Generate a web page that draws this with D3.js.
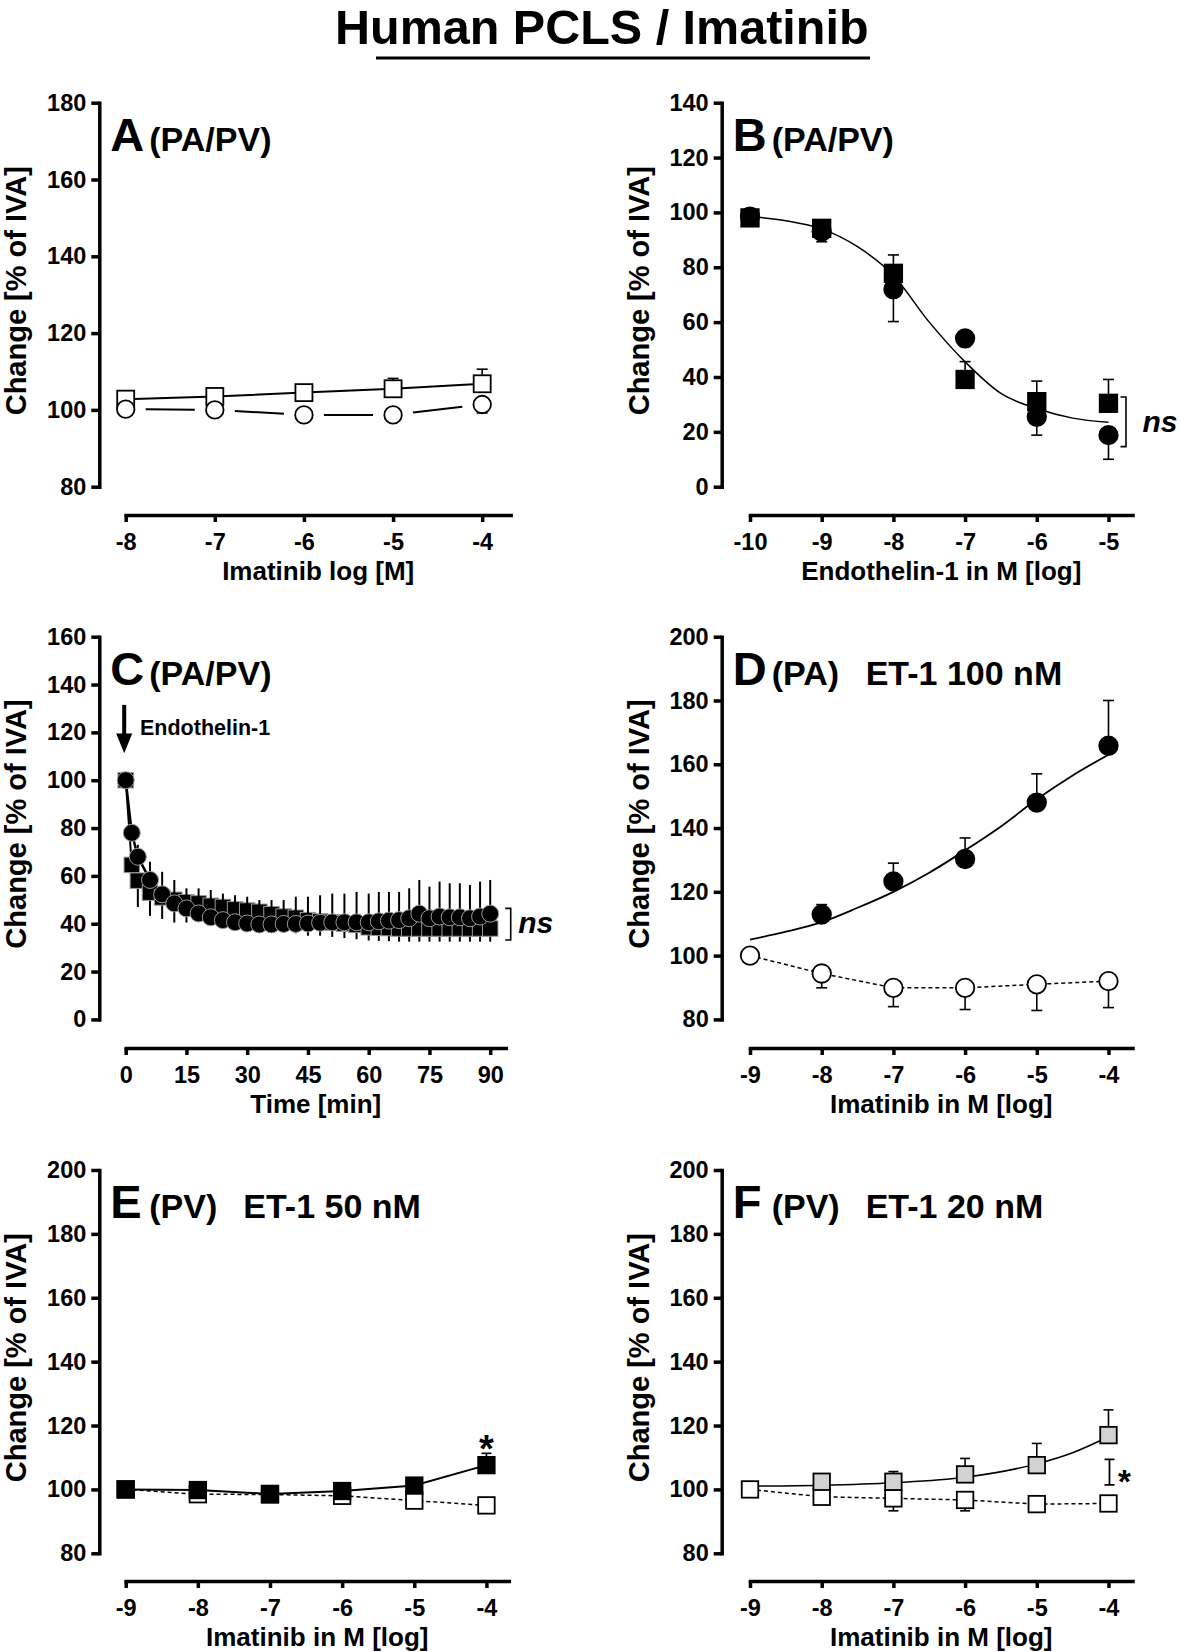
<!DOCTYPE html>
<html>
<head>
<meta charset="utf-8">
<script src="https://cdn.jsdelivr.net/npm/d3@7"></script>
<style>
  body { margin: 0; background: #fff; }
  svg { display: block; font-family: "Liberation Sans", Arial, Helvetica, sans-serif; font-weight: bold; }
</style>
</head>
<body>
<svg id="fig" width="1181" height="1652"></svg>
<script>
// ---- data ----

// A: imatinib alone
const aDose = [-8, -7, -6, -5, -4];
const aSquare = [102.8, 103.5, 104.5, 105.5, 106.8];
const aSquareErr = [0.8, 0.8, 1.0, 2.7, 3.8];
const aCircle = [100.2, 100.0, 98.7, 98.7, 101.4];
const aCircleErr = [0, 0, 0, 0, 2.2];
const aXTicks = [-8, -7, -6, -5, -4];
const aYTicks = [80, 100, 120, 140, 160, 180];

// B: endothelin-1 concentration response
const bDose = [-10, -9, -8, -7, -6, -5];
const bSquare = [98, 94.2, 77.8, 39.1, 31, 30.4];
const bSquareErr = [1, 1.5, 6.7, 6.5, 7.5, 8.7];
const bCircle = [98.5, 93, 72, 54.1, 25.5, 18.8];
const bCircleErr = [1, 3.7, 11.8, 3, 6.7, 8.8];
const bFitX = [-10, -9.5, -9, -8.5, -8, -7.5, -7, -6.5, -6, -5.5, -5];
const bFitY = [98.5, 97, 94, 87.5, 77, 60, 45.5, 34, 28.5, 25, 23.5];
const bXTicks = [-10, -9, -8, -7, -6, -5];
const bYTicks = [0, 20, 40, 60, 80, 100, 120, 140];

// C: time course after endothelin-1
const cTime = [0, 1.5, 3, 6, 9, 12, 15, 18, 21, 24, 27, 30, 33, 36, 39, 42, 45, 48, 51, 54, 57,
  60, 62.5, 65, 67.5, 70, 72.5, 75, 77.5, 80, 82.5, 85, 87.5, 90];
const cCircle = [100, 78, 68, 58.3, 52.3, 48.5, 46.4, 44.3, 42.7, 41.5, 40.6, 40.1, 39.7, 39.7, 39.9,
  39.9, 40.1, 40.4, 40.6, 40.6, 40.6, 40.6, 41, 41.3, 41.5, 42.3, 44.2, 42.3, 43, 42.7, 42.7, 42.3, 43, 44.2];
const cCircleErr = [0, 3.3, 5, 7.6, 9.4, 9.8, 8.4, 10.5, 11.4, 11.1, 11.3, 11.2, 10.2, 10.2, 10, 11.4,
  11.2, 11.5, 12, 12, 12.7, 12, 12.3, 12, 11.8, 12.5, 14.1, 13.2, 14.6, 14.2, 14.2, 13.9, 14.6, 14.1];
const cSquare = [100, 64.6, 58, 53, 51, 50, 49, 48.5, 47.5, 47, 46, 45.5, 45, 44, 43, 42.5, 41.5, 41,
  40.5, 40, 39.5, 38.5, 38.3, 38.2, 38, 38, 38, 38, 38, 38, 38, 38, 38, 38];
const cSquareErr = [0, 8, 11, 9.7, 9, 9.5, 8.5, 6.5, 7, 7, 7, 7, 7, 6.5, 6.5, 6.5, 6.5, 6, 6, 6, 6,
  5.5, 5.5, 5.5, 5.5, 5.5, 5.5, 5.5, 5.5, 5.5, 5.5, 5.5, 5.5, 5.5];
const cXTicks = [0, 15, 30, 45, 60, 75, 90];
const cYTicks = [0, 20, 40, 60, 80, 100, 120, 140, 160];

// D: PA, ET-1 100 nM
const dFilledDose = [-8, -7, -6, -5, -4];
const dFilled = [112.9, 123.3, 130.3, 148, 165.8];
const dFilledErr = [3.1, 5.7, 6.6, 9, 14.2];
const dOpenDose = [-9, -8, -7, -6, -5, -4];
const dOpen = [100, 94.4, 89.9, 89.9, 91, 92];
const dOpenErr = [0, 4.5, 5.9, 6.8, 8.2, 8.3];
const dFitX = [-9, -8.5, -8, -7.5, -7, -6.5, -6, -5.5, -5, -4.5, -4];
const dFitY = [105, 107.5, 110.5, 115, 120, 126, 133, 140.5, 149, 156.5, 163];

// E: PV, ET-1 50 nM
const eDose = [-9, -8, -7, -6, -5, -4];
const eFilled = [100, 99.8, 98.6, 99.5, 101.2, 107.6];
const eFilledErr = [0, 0, 0, 0, 0.5, 3.7];
const eOpen = [100, 98.5, 98.4, 98, 96.5, 95];
const eOpenErr = [0, 0, 0, 0, 0, 2];

// F: PV, ET-1 20 nM
const fGrayDose = [-8, -7, -6, -5, -4];
const fGray = [102.4, 102.4, 104.7, 107.6, 117];
const fGrayErr = [0, 3.2, 5, 6.8, 7.9];
const fOpenDose = [-9, -8, -7, -6, -5, -4];
const fOpen = [100, 97.7, 97.2, 96.7, 95.4, 95.6];
const fOpenErr = [0, 0, 3.9, 3.4, 0, 0];
const fFitX = [-9, -8, -7, -6, -5, -4.5, -4];
const fFitY = [101, 101.3, 102.1, 103.8, 108, 111.5, 116.5];

const imaXTicks = [-9, -8, -7, -6, -5, -4];
const imaYTicks = [80, 100, 120, 140, 160, 180, 200];

// ---- drawing ----
const svg = d3.select('#fig');

svg.append('text')
  .attr('x', 335).attr('y', 44)
  .attr('font-size', 48.5)
  .text('Human PCLS / Imatinib');
svg.append('line')
  .attr('x1', 376).attr('x2', 870)
  .attr('y1', 58).attr('y2', 58)
  .attr('stroke', '#000').attr('stroke-width', 3);

const LEFT = 99.3, RIGHT = 721.7;
const rows = [
  {top: 102.7, bottom: 486.7, axisY: 515},
  {top: 636.7, bottom: 1019.4, axisY: 1048},
  {top: 1170, bottom: 1553.3, axisY: 1581}
];

function drawLine(g, x, y, l) {
  const pts = l.xs.map((d, i) => [x(d), y(l.ys[i])]);
  if (l.gap) {
    // broken segments that stop short of each marker
    for (let i = 1; i < pts.length; i++) {
      const [x0, y0] = pts[i - 1], [x1, y1] = pts[i];
      const len = Math.hypot(x1 - x0, y1 - y0);
      const ux = (x1 - x0) / len, uy = (y1 - y0) / len;
      g.append('line')
        .attr('x1', x0 + ux * l.gap).attr('y1', y0 + uy * l.gap)
        .attr('x2', x1 - ux * l.gap).attr('y2', y1 - uy * l.gap)
        .attr('stroke', '#000').attr('stroke-width', l.width);
    }
    return;
  }
  g.append('path')
    .attr('d', d3.line().curve(l.smooth ? d3.curveMonotoneX : d3.curveLinear)(pts))
    .attr('fill', 'none')
    .attr('stroke', '#000')
    .attr('stroke-width', l.width)
    .attr('stroke-dasharray', l.dash || null);
}

function drawSeries(g, x, y, s) {
  const ew = s.errWidth || 1.6;
  s.xs.forEach((d, i) => {
    const e = s.err ? s.err[i] : 0;
    if (!e) return;
    const cx = x(d), y0 = y(s.ys[i]), y1 = y(s.ys[i] + s.dir * e);
    g.append('line')
      .attr('x1', cx).attr('x2', cx).attr('y1', y0).attr('y2', y1)
      .attr('stroke', '#000').attr('stroke-width', ew);
    if (s.cap) {
      g.append('line')
        .attr('x1', cx - s.cap).attr('x2', cx + s.cap).attr('y1', y1).attr('y2', y1)
        .attr('stroke', '#000').attr('stroke-width', ew);
    }
  });
  s.xs.forEach((d, i) => {
    const cx = x(d), cy = y(s.ys[i]);
    const m = s.shape === 'circle'
      ? g.append('circle').attr('cx', cx).attr('cy', cy).attr('r', s.size / 2)
      : g.append('rect').attr('x', cx - s.size / 2).attr('y', cy - s.size / 2)
          .attr('width', s.size).attr('height', s.size);
    m.attr('fill', s.fill)
      .attr('stroke', s.stroke || '#000')
      .attr('stroke-width', s.strokeWidth || 1.8);
  });
}

function drawPanel(p) {
  const g = svg.append('g');
  const row = rows[p.row];
  const ax = p.col === 0 ? LEFT : RIGHT;
  const x = d3.scaleLinear().domain(p.xDomain).range(p.xRange);
  const y = d3.scaleLinear().domain(p.yDomain).range([row.bottom, row.top]);

  const yAx = g.append('g')
    .attr('transform', `translate(${ax},0)`)
    .call(d3.axisLeft(y).tickValues(p.yTicks).tickFormat(d => String(d))
      .tickSize(8).tickPadding(5).tickSizeOuter(0));
  const xAx = g.append('g')
    .attr('transform', `translate(0,${row.axisY})`)
    .call(d3.axisBottom(x).tickValues(p.xTicks).tickFormat(d => String(d))
      .tickSize(7).tickPadding(11).tickSizeOuter(0));
  [yAx, xAx].forEach(a => {
    a.attr('font-family', null).attr('font-size', null);
    a.select('.domain').attr('stroke-width', 3.5).attr('stroke-linecap', 'square');
    a.selectAll('.tick line').attr('stroke-width', 3.5);
    a.selectAll('.tick text').attr('font-size', 23.5).attr('fill', '#000');
  });

  // axis titles
  g.append('text')
    .attr('transform', `translate(${ax - 73},${(row.top + row.bottom) / 2 - 4}) rotate(-90)`)
    .attr('text-anchor', 'middle')
    .attr('font-size', 29)
    .text('Change [% of IVA]');
  g.append('text')
    .attr('x', (p.xRange[0] + p.xRange[1]) / 2)
    .attr('y', row.axisY + 65)
    .attr('text-anchor', 'middle')
    .attr('font-size', 26)
    .text(p.xTitle);

  // panel label
  const ly = row.top + 48;
  g.append('text').attr('x', ax + 11).attr('y', ly).attr('font-size', 47).text(p.letter);
  g.append('text').attr('x', ax + 50).attr('y', ly).attr('font-size', 34).text(p.sub);
  if (p.extra) {
    g.append('text').attr('x', ax + 144).attr('y', ly).attr('font-size', 34).text(p.extra);
  }

  p.lines.forEach(l => drawLine(g, x, y, l));
  p.series.forEach(s => drawSeries(g, x, y, s));
  if (p.annotate) p.annotate(g, x, y);
}

function bracket(g, x0, x1, yTop, yBot) {
  g.append('path')
    .attr('d', `M${x0},${yTop}H${x1}V${yBot}H${x0}`)
    .attr('fill', 'none').attr('stroke', '#000').attr('stroke-width', 1.6);
}

function nsLabel(g, xx, yy) {
  g.append('text').attr('x', xx).attr('y', yy)
    .attr('font-size', 30).attr('font-style', 'italic').text('ns');
}

// A
drawPanel({
  row: 0, col: 0, letter: 'A', sub: '(PA/PV)',
  xDomain: [-8, -3.68], xRange: [125.7, 510.7], xTicks: aXTicks,
  yDomain: [80, 180], yTicks: aYTicks,
  xTitle: 'Imatinib log [M]',
  lines: [
    {xs: aDose, ys: aSquare, width: 2},
    {xs: aDose, ys: aCircle, width: 2, gap: 20}
  ],
  series: [
    {xs: aDose, ys: aSquare, err: aSquareErr, dir: 1, cap: 5.5, shape: 'square', size: 17, fill: '#fff'},
    {xs: aDose, ys: aCircle, err: aCircleErr, dir: -1, cap: 5.5, shape: 'circle', size: 17.5, fill: '#fff'}
  ]
});

// B
drawPanel({
  row: 0, col: 1, letter: 'B', sub: '(PA/PV)',
  xDomain: [-10, -4.665], xRange: [750, 1132.5], xTicks: bXTicks,
  yDomain: [0, 140], yTicks: bYTicks,
  xTitle: 'Endothelin-1 in M [log]',
  lines: [{xs: bFitX, ys: bFitY, width: 1.5, smooth: true}],
  series: [
    {xs: bDose, ys: bCircle, err: bCircleErr, dir: -1, cap: 5.5, shape: 'circle', size: 18.5, fill: '#000'},
    {xs: bDose, ys: bSquare, err: bSquareErr, dir: 1, cap: 5.5, shape: 'square', size: 17.5, fill: '#000'}
  ],
  annotate: (g, x, y) => {
    bracket(g, x(-5) + 12, x(-5) + 17.5, y(32.7), y(14.6));
    nsLabel(g, x(-5) + 34, y(20));
  }
});

// C
drawPanel({
  row: 1, col: 0, letter: 'C', sub: '(PA/PV)',
  xDomain: [0, 93.85], xRange: [125.7, 505.8], xTicks: cXTicks,
  yDomain: [0, 160], yTicks: cYTicks,
  xTitle: 'Time [min]',
  lines: [
    {xs: cTime, ys: cSquare, width: 2},
    {xs: cTime, ys: cCircle, width: 2.5}
  ],
  series: [
    {xs: cTime, ys: cSquare, err: cSquareErr, dir: -1, errWidth: 2, shape: 'square', size: 15.5,
      fill: '#000', stroke: '#9a9a9a', strokeWidth: 1},
    {xs: cTime, ys: cCircle, err: cCircleErr, dir: 1, errWidth: 2, shape: 'circle', size: 17,
      fill: '#000', stroke: '#9a9a9a', strokeWidth: 1}
  ],
  annotate: (g, x, y) => {
    const ax = x(0) - 1.5;
    g.append('line').attr('x1', ax).attr('x2', ax).attr('y1', y(131.5)).attr('y2', y(119))
      .attr('stroke', '#000').attr('stroke-width', 4);
    g.append('path')
      .attr('d', `M${ax - 8},${y(119.5)}L${ax + 8},${y(119.5)}L${ax},${y(111.3)}Z`)
      .attr('fill', '#000');
    g.append('text').attr('x', 140).attr('y', y(119)).attr('font-size', 21.5).text('Endothelin-1');
    bracket(g, x(90) + 15, x(90) + 20.5, y(46.4), y(33.2));
    nsLabel(g, x(90) + 28, y(36));
  }
});

// D
drawPanel({
  row: 1, col: 1, letter: 'D', sub: '(PA)', extra: 'ET-1 100 nM',
  xDomain: [-9, -3.665], xRange: [750, 1132.5], xTicks: imaXTicks,
  yDomain: [80, 200], yTicks: imaYTicks,
  xTitle: 'Imatinib in M [log]',
  lines: [
    {xs: dFitX, ys: dFitY, width: 1.8, smooth: true},
    {xs: dOpenDose, ys: dOpen, width: 1.5, dash: '4,3'}
  ],
  series: [
    {xs: dOpenDose, ys: dOpen, err: dOpenErr, dir: -1, cap: 5.5, shape: 'circle', size: 18.5, fill: '#fff'},
    {xs: dFilledDose, ys: dFilled, err: dFilledErr, dir: 1, cap: 5.5, shape: 'circle', size: 18.5, fill: '#000'}
  ]
});

// E
drawPanel({
  row: 2, col: 0, letter: 'E', sub: '(PV)', extra: 'ET-1 50 nM',
  xDomain: [-9, -3.69], xRange: [125.7, 508.8], xTicks: imaXTicks,
  yDomain: [80, 200], yTicks: imaYTicks,
  xTitle: 'Imatinib in M [log]',
  lines: [
    {xs: eDose, ys: eOpen, width: 1.5, dash: '4,3'},
    {xs: eDose, ys: eFilled, width: 2}
  ],
  series: [
    {xs: eDose, ys: eOpen, err: eOpenErr, dir: 1, cap: 5, shape: 'square', size: 16.5, fill: '#fff'},
    {xs: eDose, ys: eFilled, err: eFilledErr, dir: 1, cap: 5, shape: 'square', size: 16.5, fill: '#000'}
  ],
  annotate: (g, x, y) => {
    g.append('text').attr('x', x(-4)).attr('y', y(115.3) + 21).attr('text-anchor', 'middle')
      .attr('font-size', 38).text('*');
  }
});

// F
drawPanel({
  row: 2, col: 1, letter: 'F', sub: '(PV)', extra: 'ET-1 20 nM',
  xDomain: [-9, -3.665], xRange: [750, 1132.5], xTicks: imaXTicks,
  yDomain: [80, 200], yTicks: imaYTicks,
  xTitle: 'Imatinib in M [log]',
  lines: [
    {xs: fOpenDose, ys: fOpen, width: 1.5, dash: '4,3'},
    {xs: fFitX, ys: fFitY, width: 1.5, smooth: true}
  ],
  series: [
    {xs: fOpenDose, ys: fOpen, err: fOpenErr, dir: -1, cap: 5, shape: 'square', size: 16.5, fill: '#fff'},
    {xs: fGrayDose, ys: fGray, err: fGrayErr, dir: 1, cap: 5, shape: 'square', size: 16.5, fill: '#d2d2d2'}
  ],
  annotate: (g, x, y) => {
    const bx = x(-4) + 1;
    g.append('path')
      .attr('d', `M${bx - 5},${y(109.4)}H${bx + 5}M${bx},${y(109.4)}V${y(101.4)}M${bx - 5},${y(101.4)}H${bx + 5}`)
      .attr('fill', 'none').attr('stroke', '#000').attr('stroke-width', 1.8);
    g.append('text').attr('x', bx + 15).attr('y', y(104.5) + 18).attr('text-anchor', 'middle')
      .attr('font-size', 33).text('*');
  }
});
</script>
</body>
</html>
